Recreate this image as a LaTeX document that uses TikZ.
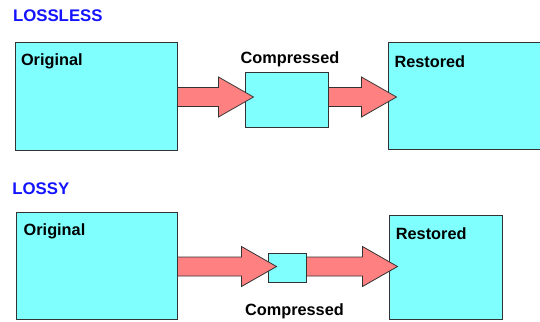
\documentclass[tikz,border=0pt]{standalone}
\usepackage{fontspec}
\setmainfont{Liberation Sans}
\usepackage{tikz}
\usepackage{xcolor}
\usetikzlibrary{calc}
\usetikzlibrary{positioning, fit, arrows.meta}

\definecolor{boxcyan}{RGB}{128,255,255}
\definecolor{arrowred}{RGB}{255,128,128}
\definecolor{headblue}{RGB}{20,20,255}

% fat arrow from one box to the next, along a row
\newcommand{\fatarrow}[3]{%
    \draw[bigarrow] ($(#1.east |- #3)+(0,-9.5)$) -- ($(#2.west |- #3)+(-26,-9.5)$)
        -- ++(0,-10.5) -- ($(#2.west |- #3)+(9,0)$) -- ($(#2.west |- #3)+(-26,20)$)
        -- ++(0,-10.5) -- ($(#1.east |- #3)+(0,9.5)$) -- cycle;}

\begin{document}
\begin{tikzpicture}[x=1pt, y=-1pt,
        stage/.style={draw=black!80, line width=0.9pt, fill=boxcyan, rectangle, anchor=north west, inner sep=0pt},
        bigarrow/.style={draw=black!80, line width=0.8pt, fill=arrowred, line join=miter},
        lbl/.style={inner sep=0pt, font=\bfseries\fontsize{16.3}{18}\selectfont},
        heading/.style={inner sep=0pt, anchor=base west, text=headblue, font=\bfseries\fontsize{16.8}{19}\selectfont}]
                        \useasboundingbox (0,0) rectangle (540,321);
                        % Headings
                        \node[heading] (lossless) at (12.8,21.5) {LOSSLESS};
                        \node[heading] (lossy) at (12.2,194) {LOSSY};

                        % Lossless boxes
                        \node[stage, minimum width=162pt, minimum height=107pt] (orig1) at (14.5,42.5) {};
                        \node[stage, minimum width=83pt, minimum height=55pt] (comp1) at (244.5,71.5) {};
                        \node[stage, minimum width=152pt, minimum height=106.5pt] (rest1) at (387.5,42.5) {};

                        % Lossy boxes
                        \node[stage, minimum width=161pt, minimum height=107pt] (orig2) at (15.5,211.5) {};
                        \node[stage, minimum width=38pt, minimum height=29pt] (comp2) at (267.5,252.5) {};
                        \node[stage, minimum width=113pt, minimum height=103.5pt] (rest2) at (388.5,215) {};

                        % Box labels
                        \node[lbl, below right=11pt and 6.3pt of orig1.north west] (origtext1) {Original};
                        \node[lbl, above=4pt of comp1.north, xshift=3.5pt] (comptext1) {Compressed};
                        \node[lbl, below right=12.5pt and 6.8pt of rest1.north west] (resttext1) {Restored};
                        \node[lbl, below right=12.4pt and 8pt of orig2.north west] (origtext2) {Original};
                        \node[lbl, below=21pt of comp2.south, xshift=7.5pt] (comptext2) {Compressed};
                        \node[lbl, below right=12.7pt and 7.2pt of rest2.north west] (resttext2) {Restored};

                        % Rows the arrows run along
                        \coordinate (rowA) at (0,97);
                        \coordinate (rowB) at (0,266.5);

                        % Fat arrows, drawn over the boxes
                        \fatarrow{orig1}{comp1}{rowA}
                        \fatarrow{comp1}{rest1}{rowA}
                        \fatarrow{orig2}{comp2}{rowB}
                        \fatarrow{comp2}{rest2}{rowB}
                    \end{tikzpicture}
\end{document}
